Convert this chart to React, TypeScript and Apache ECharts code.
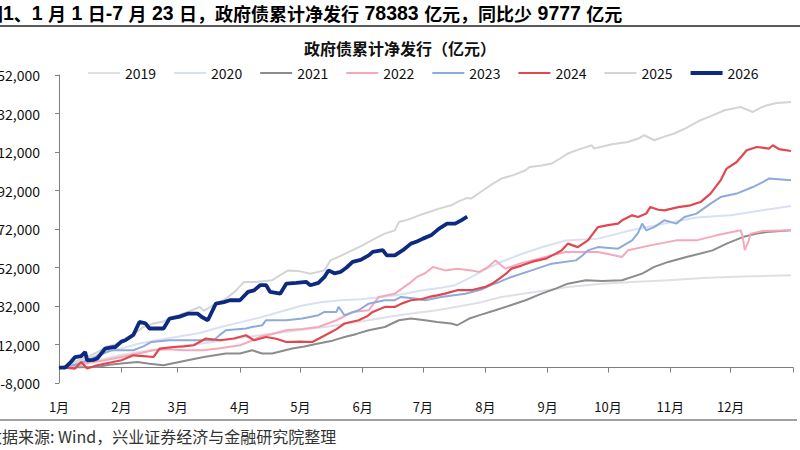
import React, { useEffect, useRef } from "react";
import * as echarts from "echarts";

// Cumulative net government bond issuance (亿元), points as [day of year, value]
const years = ["2019", "2020", "2021", "2022", "2023", "2024", "2025", "2026"];

const net2019: [number, number][] = [
  [0, 0], [10, 1500], [20, 4000], [31, 6500], [45, 9000], [59, 11000], [75, 13000], [90, 15500],
  [105, 17500], [120, 19500], [135, 21500], [150, 24000], [165, 26500], [178, 28500], [188, 29800],
  [200, 32000], [210, 34000], [220, 36700], [235, 39000], [253, 41900], [270, 43500], [285, 44500],
  [303, 45400], [320, 46500], [340, 47300], [364, 48000],
];

const net2020: [number, number][] = [
  [0, 0], [8, 2500], [15, 5000], [23, 8000], [31, 10000], [40, 12500], [50, 14500], [59, 16000],
  [70, 18000], [80, 21000], [90, 23500], [100, 26000], [110, 29000], [120, 32000], [130, 34000],
  [140, 35000], [150, 35500], [160, 36500], [170, 38000], [180, 40000], [190, 41500], [197, 42800],
  [205, 47000], [212, 51000], [220, 55000], [230, 59000], [240, 62500], [252, 66000], [268, 67000],
  [285, 71500], [301, 74800], [317, 78000], [334, 79100], [345, 81000], [355, 82500], [364, 84000],
];

const net2021: [number, number][] = [
  [0, 0], [19, 300], [25, 1500], [31, 2100], [39, 2900], [45, 2000], [52, 1200], [58, 2500],
  [64, 3800], [72, 5500], [83, 7300], [90, 7300], [96, 9000], [101, 7300], [106, 7300], [116, 9900],
  [122, 11000], [129, 12500], [136, 14000], [142, 15900], [148, 17500], [154, 19400], [162, 21100],
  [169, 24600], [175, 25500], [182, 24600], [188, 23700], [195, 22900], [198, 22000], [204, 25500],
  [210, 27500], [217, 29800], [225, 32500], [232, 35000], [240, 38400], [247, 41000], [253, 43600],
  [262, 45400], [270, 45000], [280, 45400], [290, 48800], [296, 52300], [303, 54900], [312, 57500],
  [318, 59000], [325, 60900], [332, 64400], [340, 67800], [347, 69600], [352, 70400], [364, 71300],
];

const net2022: [number, number][] = [
  [0, 0], [8, 1000], [15, 2500], [23, 3800], [31, 5500], [40, 7500], [47, 9000], [55, 9500],
  [62, 9000], [72, 9000], [80, 10000], [90, 11600], [96, 14000], [100, 16000], [106, 17500],
  [113, 19400], [121, 20000], [129, 21100], [138, 24600], [146, 28900], [154, 29800], [159, 36700],
  [167, 38400], [174, 43600], [178, 47100], [182, 49000], [186, 52300], [192, 50500], [198, 51400],
  [205, 50500], [209, 49700], [213, 52000], [217, 55700], [222, 51400], [229, 54000], [240, 57000],
  [252, 60100], [268, 60100], [280, 57500], [283, 61000], [294, 63500], [307, 66100], [317, 66100],
  [327, 68700], [339, 71300], [340, 68000], [341, 61000], [343, 66000], [344, 69600], [350, 71000],
  [364, 71300],
];

const net2023: [number, number][] = [
  [0, 0], [8, 1500], [15, 4000], [20, 6500], [26, 9000], [31, 9000], [37, 9000], [42, 11000],
  [46, 13300], [55, 14200], [67, 14200], [77, 14200], [80, 17000], [83, 19400], [93, 20300],
  [96, 21100], [101, 22000], [103, 24600], [113, 24600], [121, 25500], [129, 27200], [132, 28900],
  [138, 28900], [139, 31500], [142, 27200], [149, 29800], [154, 33200], [162, 35000], [167, 35000],
  [170, 36700], [178, 35800], [182, 35000], [190, 36700], [202, 38400], [210, 40500], [215, 43000],
  [219, 44500], [225, 47100], [235, 50500], [245, 54000], [257, 55700], [260, 58000], [263, 60900],
  [268, 62600], [278, 61800], [285, 66100], [288, 70000], [290, 74800], [292, 71300], [296, 73000],
  [301, 76500], [307, 74800], [311, 78200], [317, 80000], [324, 85200], [329, 88600], [337, 90400],
  [345, 93800], [350, 96400], [353, 98200], [364, 97300],
];

const net2024: [number, number][] = [
  [3, 0], [8, -500], [11, 2900], [14, -500], [19, 1200], [25, 2500], [31, 3800], [37, 6400],
  [42, 6000], [47, 5500], [50, 9900], [57, 10700], [62, 11000], [67, 11600], [73, 15100],
  [80, 14200], [87, 15100], [93, 16800], [97, 14200], [103, 15900], [108, 15000], [113, 13300],
  [120, 13500], [126, 13300], [130, 15500], [134, 17700], [138, 20000], [142, 22900], [149, 24600],
  [153, 26500], [156, 28900], [162, 31500], [167, 31500], [171, 33500], [175, 35000], [180, 35500],
  [184, 36700], [188, 37500], [192, 38400], [198, 40200], [205, 40200], [212, 41900], [216, 44000],
  [219, 46200], [222, 48500], [225, 51400], [230, 53000], [235, 54900], [242, 56600], [247, 59200],
  [250, 61000], [253, 64400], [258, 62600], [263, 66100], [268, 73000], [273, 74000], [278, 74800],
  [280, 76500], [285, 79100], [288, 78200], [292, 80000], [294, 83400], [298, 82000], [301, 81700],
  [308, 83400], [314, 84300], [319, 86000], [324, 90400], [327, 94500], [329, 97300], [332, 103400],
  [337, 106800], [342, 112900], [347, 114600], [353, 113800], [355, 115500], [358, 113500],
  [364, 112500],
];

const net2025: [number, number][] = [
  [0, 0], [5, 1500], [10, 4000], [15, 6000], [20, 8500], [23, 10700], [28, 12000], [33, 15000],
  [38, 18000], [42, 21100], [47, 22900], [52, 24000], [57, 26500], [64, 28900], [70, 31500],
  [72, 29500], [76, 32000], [83, 35800], [88, 40000], [92, 44500], [98, 44500], [106, 45400],
  [110, 48000], [114, 50500], [120, 50000], [125, 48800], [132, 50500], [135, 55700], [140, 58000],
  [146, 61000], [150, 63000], [154, 65300], [158, 67500], [162, 69600], [167, 71300], [169, 75600],
  [174, 77000], [179, 79100], [184, 80800], [189, 82600], [195, 84300], [199, 86500], [203, 88160],
  [205, 87800], [210, 91500], [215, 95000], [220, 98200], [226, 100000], [232, 102500],
  [234, 104200], [240, 105000], [245, 106000], [249, 108500], [253, 111200], [259, 113500],
  [265, 115500], [266, 113800], [275, 116000], [283, 117200], [288, 119000], [291, 120700],
  [296, 118100], [301, 120000], [306, 121600], [312, 124500], [319, 128500], [325, 131000],
  [331, 133700], [339, 135400], [345, 132800], [349, 135000], [352, 136300], [357, 137500],
  [364, 138000],
];

const net2026: [number, number][] = [
  [0, 0], [3, 0], [6, 3000], [8, 5500], [11, 6000], [13, 8100], [14, 3800], [17, 4000], [19, 4700],
  [23, 9900], [26, 10500], [28, 10700], [31, 13500], [33, 14200], [37, 17000], [40, 23700],
  [43, 23000], [45, 20300], [52, 20300], [55, 25500], [60, 26500], [64, 28000], [69, 28000],
  [71, 26300], [74, 24600], [78, 33200], [82, 34000], [85, 35000], [90, 35000], [94, 39300],
  [97, 40100], [100, 42800], [103, 42800], [105, 39300], [110, 38400], [113, 43600], [118, 44000],
  [123, 44500], [125, 42800], [129, 44000], [132, 47100], [134, 50500], [137, 49000], [140, 49700],
  [143, 52000], [146, 54900], [150, 56000], [154, 58300], [156, 60100], [161, 61000], [163, 58300],
  [167, 58300], [171, 61000], [175, 64400], [178, 65500], [181, 67000], [185, 68700], [189, 72200],
  [193, 74800], [197, 74800], [200, 76500], [203, 78383],
];

const seriesData = [net2019, net2020, net2021, net2022, net2023, net2024, net2025, net2026];
const colors = ["#dfe0e6", "#d9e0f2", "#8c8c8c", "#f4a8b9", "#8eaadb", "#e0474f", "#d4d4d4", "#0e2a80"];
const widths = [2, 2, 2, 2, 2, 2.2, 2, 3.8];

// Month starts (day of year) and their labels
const monthStarts = [0, 31, 59, 90, 120, 151, 181, 212, 243, 273, 304, 334];
const monthLabels = ["1月", "2月", "3月", "4月", "5月", "6月", "7月", "8月", "9月", "10月", "11月", "12月"];
const yTicks = [-8000, 12000, 32000, 52000, 72000, 92000, 112000, 132000, 152000];

const chartTitle = "政府债累计净发行（亿元）";
const sourceText = "数据来源: Wind，兴业证券经济与金融研究院整理";

const FONT = '"Noto Sans CJK SC", "Noto Sans", sans-serif';
const LATIN = '"Liberation Sans", Arial, sans-serif';

// Header: CJK runs and number runs are styled separately
const headerRich =
  "{c|图}{n|1}{c|、}{n|1 }{c|月}{n| 1 }{c|日}{n|-7 }{c|月}{n| 23 }{c|日，政府债累计净发行}" +
  "{n| 78383 }{c|亿元，同比少}{n| 9777 }{c|亿元}";

// Legend marker: a short horizontal bar whose thickness follows the series line width
const legendIcon = (w: number) => `path://M0,0L32,0L32,${w}L0,${w}Z`;

export default function App() {
  const ref = useRef<HTMLDivElement>(null);

  useEffect(() => {
    if (!ref.current) return;
    const chart = echarts.init(ref.current, null, { renderer: "svg" });
    chart.setOption({
      animation: false,
      backgroundColor: "#ffffff",
      textStyle: { fontFamily: FONT },
      title: {
        text: chartTitle,
        left: "center",
        top: 35,
        textStyle: { fontSize: 16, fontWeight: "bold", color: "#111", fontFamily: FONT },
      },
      legend: {
        top: 61,
        left: 83,
        itemWidth: 32,
        itemHeight: 14,
        itemGap: 18,
        symbolKeepAspect: true,
        textStyle: { fontSize: 14, color: "#111", fontFamily: FONT },
        data: years.map((name, i) => ({
          name,
          icon: legendIcon(i === 7 ? 4 : 2),
          itemStyle: { color: colors[i] },
        })),
      },
      grid: { left: 59, right: 7, top: 75, bottom: 67, outerBoundsMode: "none", containLabel: false },
      xAxis: {
        type: "value",
        min: 0,
        max: 365,
        splitLine: { show: false },
        axisLine: { onZero: true, lineStyle: { color: "#7f7f7f", width: 1 } },
        axisTick: {
          show: true,
          length: 5,
          customValues: [...monthStarts, 365],
          lineStyle: { color: "#7f7f7f" },
        },
        axisLabel: {
          customValues: monthStarts,
          margin: 17,
          fontSize: 13,
          color: "#111",
          fontFamily: FONT,
          formatter: (v: number) => monthLabels[monthStarts.indexOf(v)] ?? "",
        },
      },
      yAxis: {
        type: "value",
        min: yTicks[0],
        max: yTicks[yTicks.length - 1],
        interval: 20000,
        splitLine: { show: false },
        axisLine: { show: true, lineStyle: { color: "#7f7f7f", width: 1 } },
        axisTick: { show: true, length: 4, lineStyle: { color: "#7f7f7f" } },
        axisLabel: {
          margin: 19,
          fontSize: 14,
          color: "#111",
          fontFamily: FONT,
          formatter: (v: number) => v.toLocaleString("en-US"),
        },
      },
      series: years.map((name, i) => ({
        name,
        type: "line",
        data: seriesData[i],
        symbol: "none",
        z: i + 2,
        color: colors[i],
        lineStyle: { color: colors[i], width: widths[i] },
      })),
      graphic: [
        {
          type: "text",
          x: -15,
          y: 13,
          style: {
            text: headerRich,
            fill: "#000",
            verticalAlign: "middle",
            rich: {
              c: { font: `bold 18px ${FONT}`, fill: "#000" },
              n: { font: `bold 19.5px ${LATIN}`, fill: "#000" },
            },
          },
        },
        {
          type: "line",
          shape: { x1: 0, y1: 26, x2: 800, y2: 26 },
          style: { stroke: "#222", lineWidth: 1.5 },
        },
        {
          type: "line",
          shape: { x1: 0, y1: 420, x2: 797, y2: 420 },
          style: { stroke: "#444", lineWidth: 1 },
        },
        {
          type: "text",
          x: -14,
          y: 436,
          style: {
            text: sourceText,
            font: `16px ${FONT}`,
            fill: "#333",
            verticalAlign: "middle",
          },
        },
      ],
    });
    return () => chart.dispose();
  }, []);

  return (
    <div
      ref={ref}
      style={{ position: "fixed", left: 0, top: 0, width: 800, height: 450, background: "#fff" }}
    />
  );
}
